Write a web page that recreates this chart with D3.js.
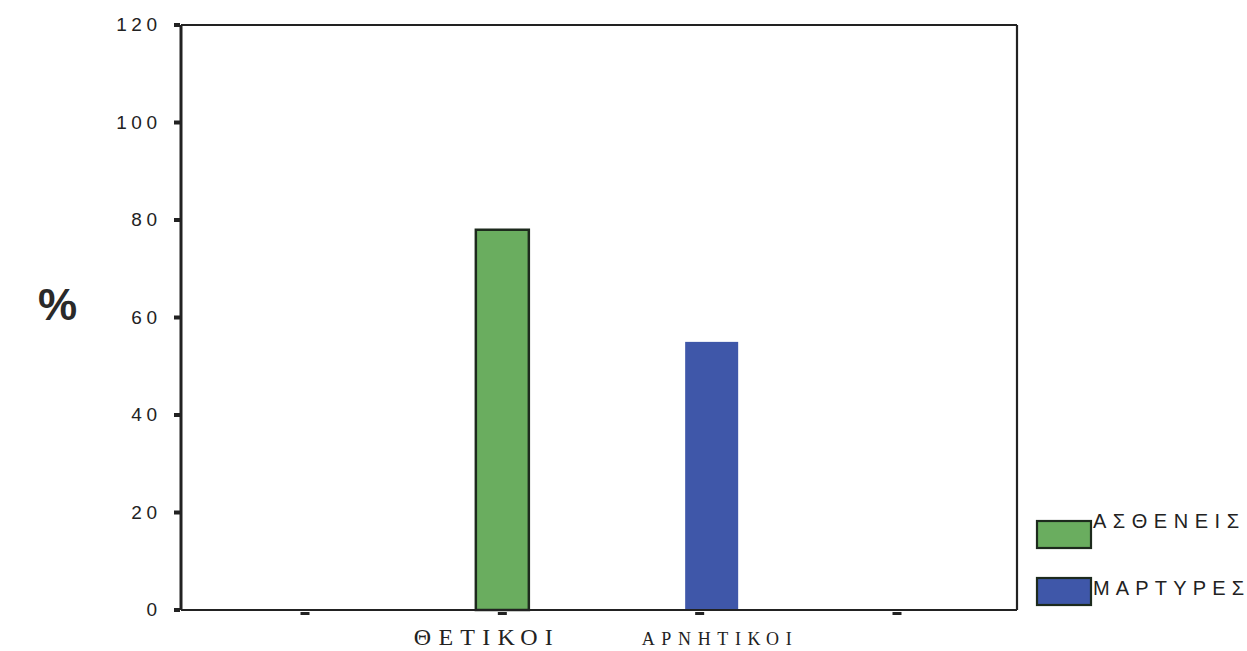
<!DOCTYPE html>
<html>
<head>
<meta charset="utf-8">
<script src="https://cdn.jsdelivr.net/npm/d3@7"></script>
<style>
  html, body { margin: 0; padding: 0; background: #ffffff; }
  svg { display: block; }
</style>
</head>
<body>
<svg id="chart" width="1247" height="651"></svg>
<script>
// Categories along the x axis (the outer two slots are unlabeled)
const categories = ["", "ΘΕΤΙΚΟΙ", "ΑΡΝΗΤΙΚΟΙ", ""];
// Percentages per group
const series = ["ΑΣΘΕΝΕΙΣ", "ΜΑΡΤΥΡΕΣ"];
const astheneis = [0, 78, 0, 0];
const martyres  = [0, 0, 55, 0];
const yTicks = [0, 20, 40, 60, 80, 100, 120];

const svg = d3.select("#chart");
const plot = { left: 181, right: 1017, top: 25, bottom: 610 };

const x = d3.scalePoint()
  .domain(d3.range(categories.length))
  .range([305, 897]);

const y = d3.scaleLinear()
  .domain([0, 120])
  .range([plot.bottom, plot.top]);

const barW = 53;
const seriesColor = { "ΑΣΘΕΝΕΙΣ": "#6aad5f", "ΜΑΡΤΥΡΕΣ": "#3f57a9" };
const seriesStroke = { "ΑΣΘΕΝΕΙΣ": "#1d2a1d", "ΜΑΡΤΥΡΕΣ": "none" };
const seriesShift = { "ΑΣΘΕΝΕΙΣ": 0, "ΜΑΡΤΥΡΕΣ": 12 };

const bars = [];
series.forEach((s, si) => {
  const vals = si === 0 ? astheneis : martyres;
  vals.forEach((v, ci) => { if (v > 0) bars.push({ s, ci, v }); });
});

// Bars
svg.append("g").selectAll("rect")
  .data(bars)
  .join("rect")
  .attr("x", d => x(d.ci) - barW / 2 + seriesShift[d.s])
  .attr("y", d => y(d.v))
  .attr("width", barW)
  .attr("height", d => y(0) - y(d.v))
  .attr("fill", d => seriesColor[d.s])
  .attr("stroke", d => seriesStroke[d.s])
  .attr("stroke-width", 2.5);

// Plot frame
const frame = svg.append("g").attr("stroke", "#222").attr("fill", "none");
frame.append("line").attr("x1", plot.left).attr("x2", plot.right)
  .attr("y1", plot.top).attr("y2", plot.top).attr("stroke-width", 1.8);
frame.append("line").attr("x1", plot.right).attr("x2", plot.right)
  .attr("y1", plot.top).attr("y2", plot.bottom).attr("stroke-width", 2.2);
frame.append("line").attr("x1", plot.left).attr("x2", plot.right)
  .attr("y1", plot.bottom).attr("y2", plot.bottom).attr("stroke-width", 2);
frame.append("line").attr("x1", plot.left).attr("x2", plot.left)
  .attr("y1", plot.top).attr("y2", plot.bottom).attr("stroke-width", 3);

// Y axis ticks and labels
const yAxis = svg.append("g");
yAxis.selectAll("rect.tick")
  .data(yTicks)
  .join("rect")
  .attr("class", "tick")
  .attr("x", plot.left - 7)
  .attr("y", d => y(d) - 2)
  .attr("width", 6)
  .attr("height", 4)
  .attr("fill", "#222");

const yls = 4.5;
yAxis.selectAll("text")
  .data(yTicks)
  .join("text")
  .attr("x", 157 + yls)
  .attr("y", d => y(d) + 6)
  .attr("text-anchor", "end")
  .attr("font-family", "Liberation Sans, Arial, sans-serif")
  .attr("font-size", 19)
  .attr("letter-spacing", yls)
  .attr("fill", "#222")
  .text(d => d);

// X axis ticks
svg.append("g").selectAll("rect")
  .data(d3.range(categories.length))
  .join("rect")
  .attr("x", d => x(d) - 4.5)
  .attr("y", plot.bottom + 2)
  .attr("width", 9)
  .attr("height", 3)
  .attr("fill", "#222");

// X category labels
const labelStyle = {
  "ΘΕΤΙΚΟΙ": { size: 24, len: 139, dx: -19, base: 645 },
  "ΑΡΝΗΤΙΚΟΙ": { size: 18, len: 150, dx: 17, base: 645 }
};
svg.append("g").selectAll("text")
  .data(categories.map((c, i) => ({ c, i })).filter(d => d.c))
  .join("text")
  .attr("x", d => x(d.i) + labelStyle[d.c].dx - labelStyle[d.c].len / 2)
  .attr("y", d => labelStyle[d.c].base)
  .attr("font-family", "Liberation Serif, Times New Roman, serif")
  .attr("font-size", d => labelStyle[d.c].size)
  .attr("textLength", d => labelStyle[d.c].len)
  .attr("lengthAdjust", "spacing")
  .attr("fill", "#222")
  .text(d => d.c);

// Y axis title
svg.append("text")
  .attr("x", 38)
  .attr("y", 320)
  .attr("font-family", "Liberation Sans, Arial, sans-serif")
  .attr("font-size", 44)
  .attr("font-weight", "bold")
  .attr("fill", "#2a2a2a")
  .text("%");

// Legend
const legend = svg.append("g");
const legendLen = { "ΑΣΘΕΝΕΙΣ": 146, "ΜΑΡΤΥΡΕΣ": 151 };
legend.selectAll("rect")
  .data(series)
  .join("rect")
  .attr("x", 1037)
  .attr("y", (d, i) => 521 + i * 57)
  .attr("width", 54)
  .attr("height", 27)
  .attr("fill", d => seriesColor[d])
  .attr("stroke", "#1d2a1d")
  .attr("stroke-width", 2.2);
legend.selectAll("text")
  .data(series)
  .join("text")
  .attr("x", 1093)
  .attr("y", (d, i) => 528 + i * 67)
  .attr("font-family", "Liberation Sans, Arial, sans-serif")
  .attr("font-size", 20)
  .attr("textLength", d => legendLen[d])
  .attr("lengthAdjust", "spacing")
  .attr("fill", "#222")
  .text(d => d);
</script>
</body>
</html>
